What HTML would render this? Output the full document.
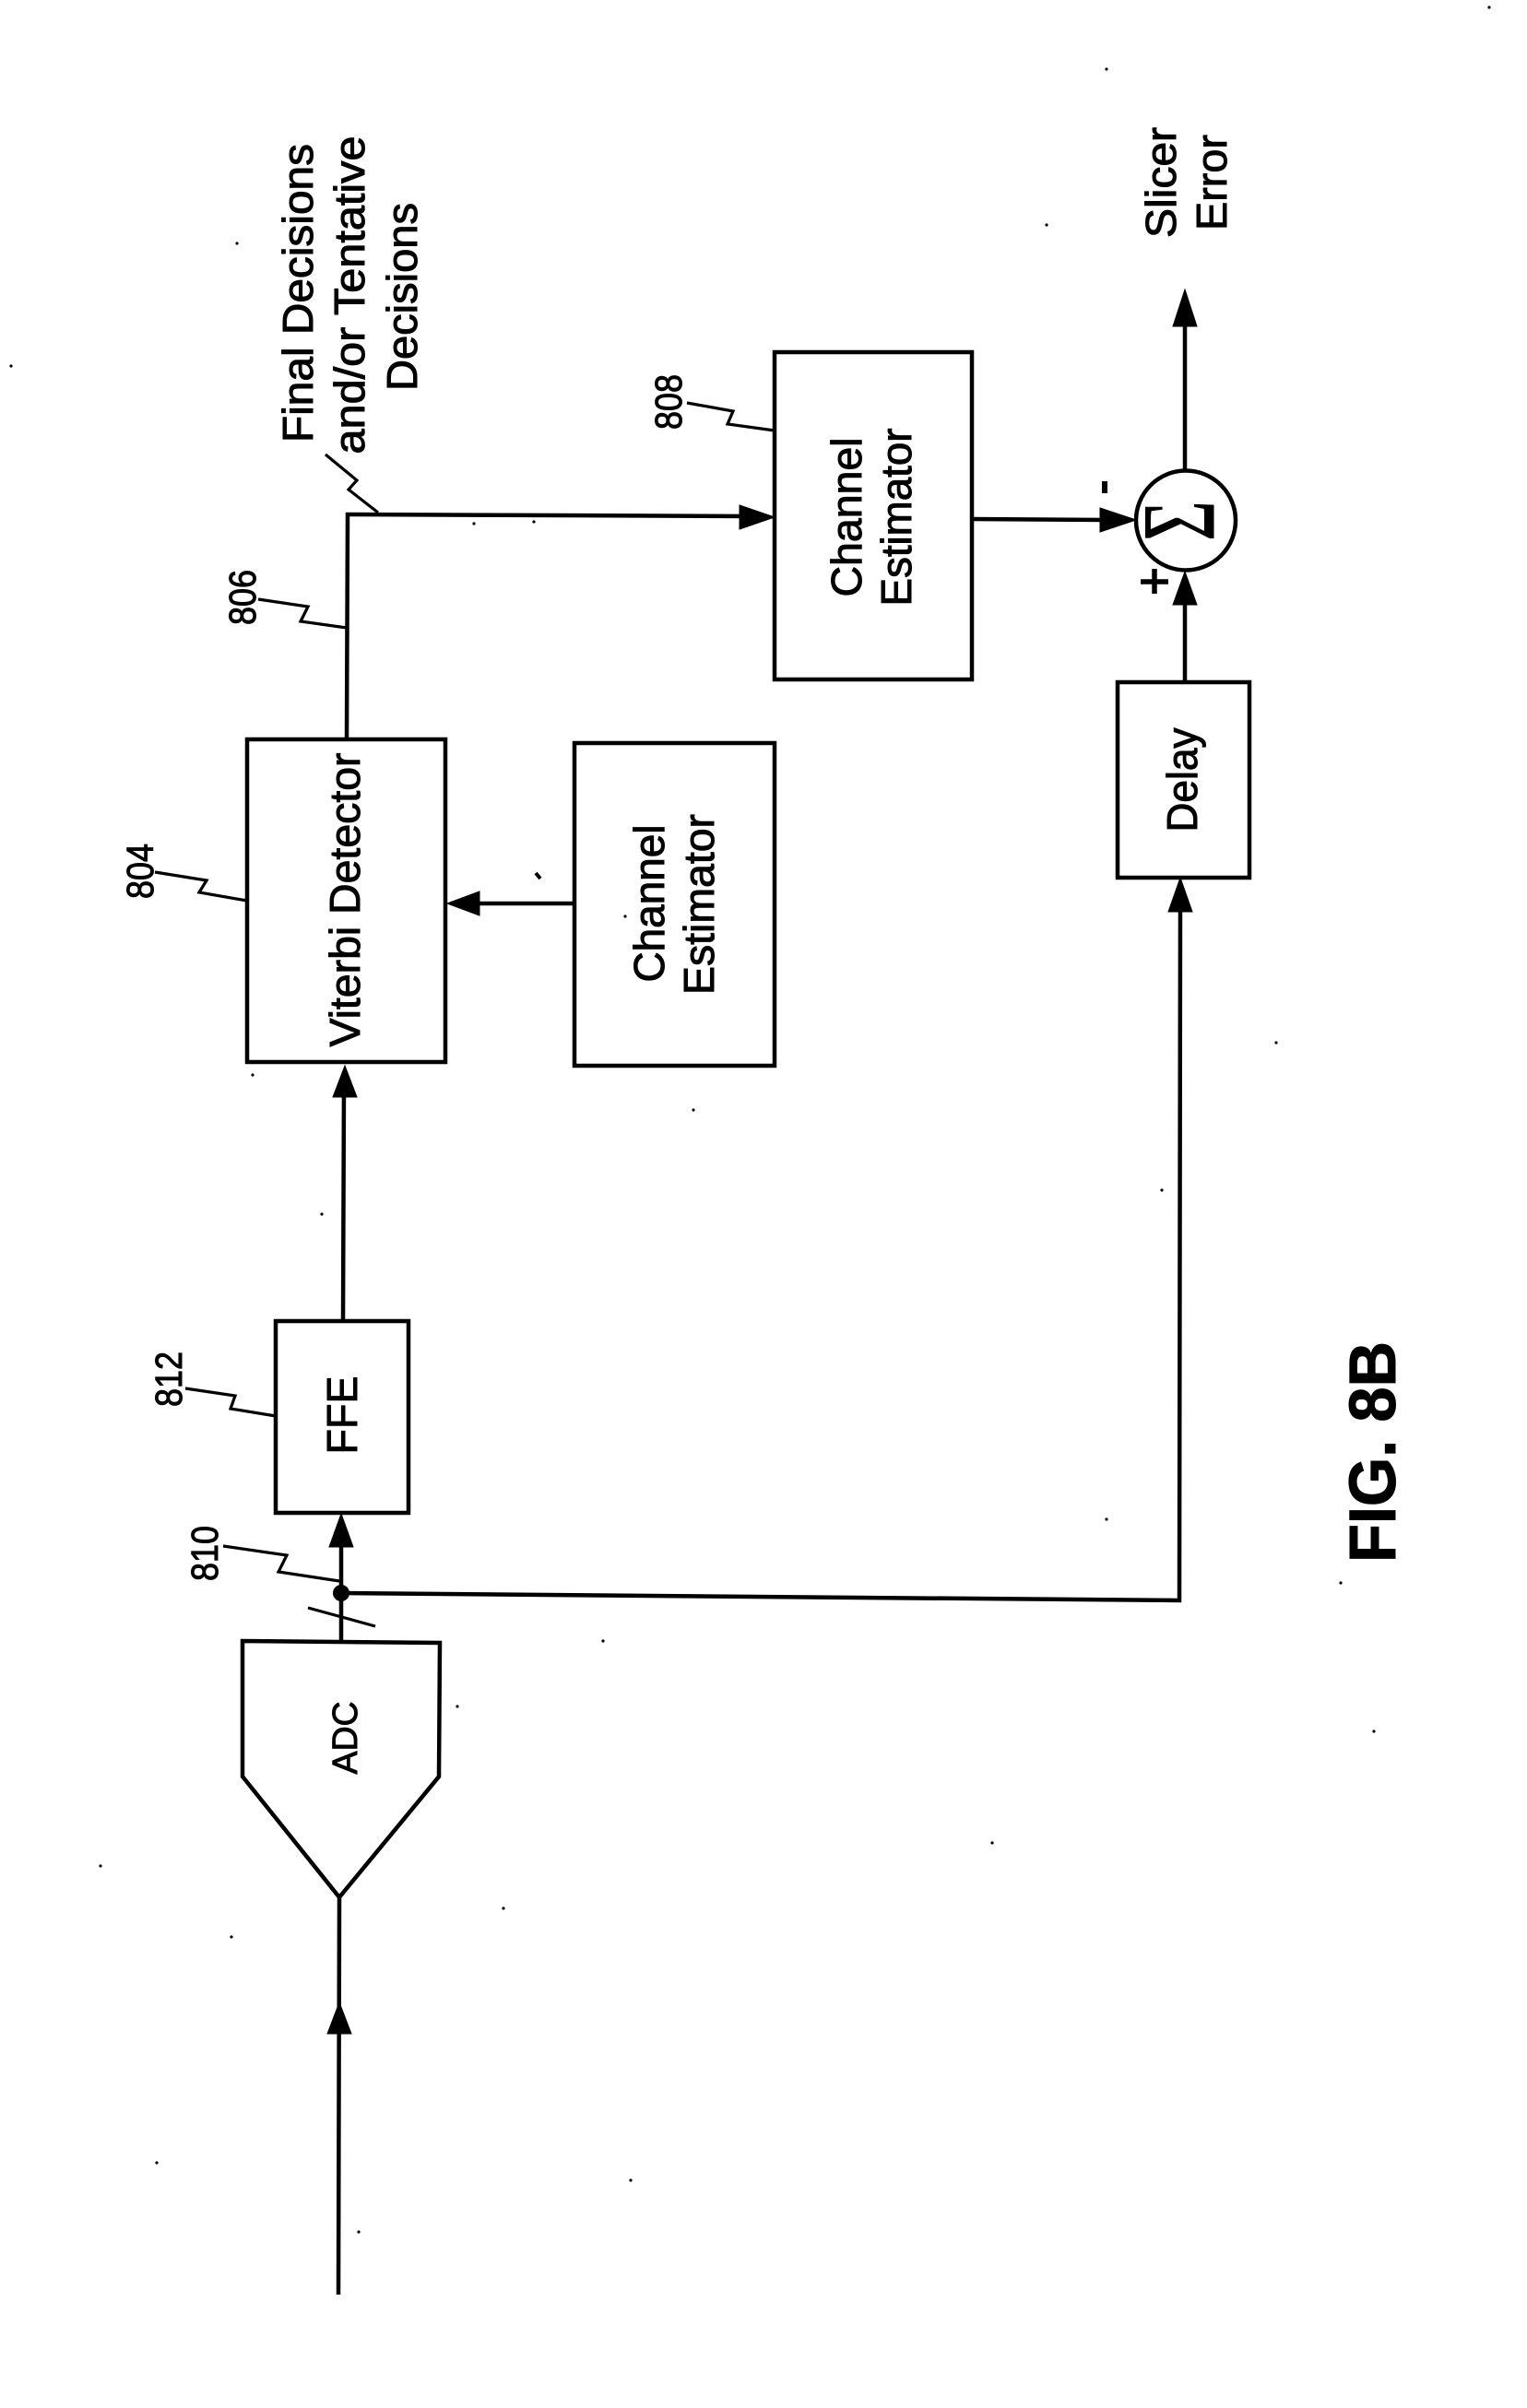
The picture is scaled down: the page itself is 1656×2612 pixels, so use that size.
<!DOCTYPE html>
<html><head><meta charset="utf-8"><title>FIG. 8B</title>
<style>
html,body{margin:0;padding:0;background:#fff;width:1656px;height:2612px;overflow:hidden}
svg{display:block}
text{font-family:"Liberation Sans",sans-serif;fill:#000;stroke:#000;stroke-width:1;text-anchor:middle}
.b{fill:none;stroke:#000;stroke-width:4.5;stroke-linejoin:miter}
.l{fill:none;stroke:#000;stroke-width:4.5}
.s{fill:none;stroke:#000;stroke-width:3.2}
.a{fill:#000;stroke:#000;stroke-width:1}
</style></head><body>
<svg width="1656" height="2612" viewBox="0 0 1656 2612" xmlns="http://www.w3.org/2000/svg">
<rect width="1656" height="2612" fill="#fff"/>

<!-- boxes -->
<rect class="b" x="840" y="382" width="214" height="355"/>
<rect class="b" x="1212" y="740" width="143" height="212"/>
<rect class="b" x="268" y="802" width="215" height="350"/>
<rect class="b" x="623" y="806" width="217" height="350"/>
<rect class="b" x="299" y="1433" width="144" height="208"/>
<path class="b" d="M263 1780 L477 1782 L476 1927 L368 2058 L263 1927 Z"/>
<circle cx="1286" cy="564.5" r="54" fill="none" stroke="#000" stroke-width="4.5"/>

<!-- connectors -->
<path class="l" d="M368 2058 L367 2489"/>
<path class="a" d="M368 2172 L355 2206 L381 2206 Z"/>
<path class="l" d="M370 1780 L370 1660"/>
<path class="a" d="M370 1642 L357 1678 L383 1678 Z"/>
<circle cx="370" cy="1728" r="9" fill="#000"/>
<path class="l" d="M370 1728 L1279 1736 L1280 970"/>
<path class="a" d="M1280 952 L1267 989 L1293 989 Z"/>
<path class="s" d="M334 1744 L407 1764"/>
<path class="l" d="M372 1433 L373 1175"/>
<path class="a" d="M374 1156 L361 1190 L387 1190 Z"/>
<path class="l" d="M623 980 L510 980"/>
<path class="a" d="M485 980 L520 967 L520 993 Z"/>
<path class="l" d="M376 802 L377 558 L815 560"/>
<path class="a" d="M840 561 L802 548 L802 574 Z"/>
<path class="l" d="M1054 563 L1200 564"/>
<path class="a" d="M1232 564 L1193 551 L1193 577 Z"/>
<path class="l" d="M1285 742 L1285 640"/>
<path class="a" d="M1285 620 L1272 656 L1298 656 Z"/>
<path class="l" d="M1285 512 L1285 340"/>
<path class="a" d="M1285 314 L1272 354 L1298 354 Z"/>

<!-- reference squiggles -->
<path class="s" d="M745 437 L795 446 L789 460 L840 467"/>
<path class="s" d="M280 650 L334 658 L326 674 L376 681"/>
<path class="s" d="M353 493 L387 521 L378 531 L410 556"/>
<path class="s" d="M168 946 L224 955 L216 968 L268 977"/>
<path class="s" d="M201 1506 L255 1514 L250 1528 L299 1536"/>
<path class="s" d="M242 1677 L311 1687 L302 1705 L368 1715"/>

<!-- labels -->
<g font-size="46">
<text transform="translate(339,318) rotate(-90)" textLength="324" lengthAdjust="spacingAndGlyphs">Final Decisions</text>
<text transform="translate(395,320) rotate(-90)" textLength="345" lengthAdjust="spacingAndGlyphs">and/or Tentative</text>
<text transform="translate(452,322) rotate(-90)" textLength="204" lengthAdjust="spacingAndGlyphs">Decisions</text>
<text transform="translate(1275,198) rotate(-90)" textLength="120" lengthAdjust="spacingAndGlyphs">Slicer</text>
<text transform="translate(1330,198) rotate(-90)" textLength="104" lengthAdjust="spacingAndGlyphs">Error</text>
<text transform="translate(934,561) rotate(-90)" textLength="173" lengthAdjust="spacingAndGlyphs">Channel</text>
<text transform="translate(988,561) rotate(-90)" textLength="193" lengthAdjust="spacingAndGlyphs">Estimator</text>
<text transform="translate(1298,846) rotate(-90)" textLength="113" lengthAdjust="spacingAndGlyphs">Delay</text>
<text transform="translate(390,976) rotate(-90)" textLength="319" lengthAdjust="spacingAndGlyphs">Viterbi Detector</text>
<text transform="translate(720,980) rotate(-90)" textLength="171" lengthAdjust="spacingAndGlyphs">Channel</text>
<text transform="translate(774,981) rotate(-90)" textLength="196" lengthAdjust="spacingAndGlyphs">Estimator</text>
<text transform="translate(387,1535) rotate(-90)" textLength="85" lengthAdjust="spacingAndGlyphs">FFE</text>
</g>
<text transform="translate(387,1885) rotate(-90)" font-size="38" textLength="79" lengthAdjust="spacingAndGlyphs">ADC</text>
<g font-size="41">
<text transform="translate(739,436) rotate(-90)" textLength="60" lengthAdjust="spacingAndGlyphs">808</text>
<text transform="translate(277,648) rotate(-90)" textLength="60" lengthAdjust="spacingAndGlyphs">806</text>
<text transform="translate(166,945) rotate(-90)" textLength="60" lengthAdjust="spacingAndGlyphs">804</text>
<text transform="translate(197,1496) rotate(-90)" textLength="60" lengthAdjust="spacingAndGlyphs">812</text>
<text transform="translate(236,1685) rotate(-90)" textLength="60" lengthAdjust="spacingAndGlyphs">810</text>
</g>
<text transform="translate(1513,1575) rotate(-90)" font-size="71" font-weight="700" textLength="240" lengthAdjust="spacingAndGlyphs">FIG. 8B</text>

<!-- summing symbol and signs -->
<text transform="translate(1316,565) rotate(-90) scale(.66,1)" font-size="112" style="font-family:'Liberation Serif',serif">Σ</text>
<path d="M1237 631 L1267 631 M1252 617 L1252 644" fill="none" stroke="#000" stroke-width="5.5"/>
<path d="M1198 522 L1198 535" fill="none" stroke="#000" stroke-width="6"/>

<!-- scan specks -->
<path d="M581 947 L586 953" stroke="#000" stroke-width="4" fill="none"/>
<g fill="#000">
<circle cx="257" cy="264" r="1.6"/><circle cx="1135" cy="244" r="1.6"/><circle cx="514" cy="568" r="1.6"/><circle cx="579" cy="566" r="1.6"/>
<circle cx="274" cy="1166" r="1.6"/><circle cx="752" cy="1204" r="1.6"/><circle cx="349" cy="1317" r="1.6"/><circle cx="678" cy="994" r="1.6"/>
<circle cx="1384" cy="1131" r="1.6"/><circle cx="1260" cy="1291" r="1.6"/>
<circle cx="496" cy="1851" r="1.6"/><circle cx="251" cy="2101" r="1.6"/>
<circle cx="12" cy="397" r="1.6"/><circle cx="1615" cy="8" r="1.6"/>
<circle cx="1200" cy="75" r="1.6"/><circle cx="1200" cy="1648" r="1.6"/>
<circle cx="1454" cy="1717" r="1.6"/><circle cx="1490" cy="1878" r="1.6"/><circle cx="1076" cy="1999" r="1.6"/><circle cx="109" cy="2024" r="1.6"/>
<circle cx="170" cy="2346" r="1.6"/><circle cx="684" cy="2365" r="1.6"/><circle cx="389" cy="2421" r="1.6"/><circle cx="654" cy="1780" r="1.6"/>
<circle cx="546" cy="2070" r="1.6"/>
</g>
</svg>
</body></html>
